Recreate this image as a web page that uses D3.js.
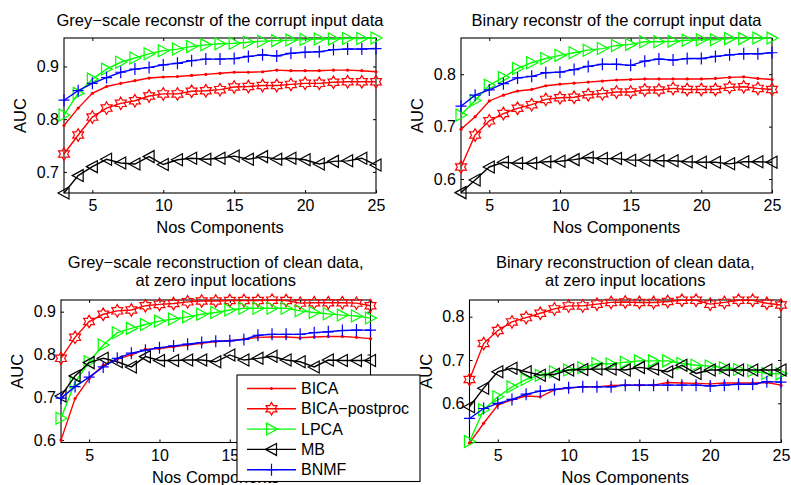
<!DOCTYPE html>
<html><head><meta charset="utf-8">
<script src="https://cdn.jsdelivr.net/npm/d3@7"></script>
<style>body{margin:0;background:#fff}svg{display:block}text{font-family:"Liberation Sans",Arial,sans-serif;fill:#000}</style>
</head><body><div id="chart"></div>
<script>
const components = [3,4,5,6,7,8,9,10,11,12,13,14,15,16,17,18,19,20,21,22,23,24,25];
const seriesNames = ["BICA","BICA\u2212postproc","LPCA","MB","BNMF"];
const seriesColors = ["#ff0000","#ff0000","#00ff00","#000000","#0000ff"];
const seriesMarkers = ["dot","hexagram","triRight","triLeft","plus"];
const xTicks = [5,10,15,20,25];

const titles = [
  ["Grey\u2212scale reconstr of the corrupt input data"],
  ["Binary reconstr of the corrupt input data"],
  ["Grey\u2212scale reconstruction of clean data,","at zero input locations"],
  ["Binary reconstruction of clean data,","at zero input locations"]
];
const yTicksTL = [0.7,0.8,0.9];
const yTicksTR = [0.6,0.7,0.8];
const yTicksBL = [0.6,0.7,0.8,0.9];
const yTicksBR = [0.6,0.7,0.8];

// Top-left: grey-scale, corrupt input
const bicaTL  = [0.788,0.821,0.849,0.862,0.868,0.873,0.878,0.880,0.881,0.883,0.885,0.887,0.889,0.889,0.890,0.893,0.892,0.892,0.892,0.893,0.893,0.892,0.890];
const postTL  = [0.734,0.770,0.804,0.821,0.830,0.835,0.844,0.848,0.848,0.853,0.854,0.856,0.861,0.862,0.864,0.864,0.866,0.868,0.868,0.870,0.871,0.871,0.871];
const lpcaTL  = [0.808,0.849,0.876,0.895,0.908,0.916,0.924,0.930,0.933,0.938,0.941,0.943,0.944,0.946,0.948,0.949,0.950,0.951,0.952,0.952,0.953,0.953,0.954];
const mbTL    = [0.660,0.693,0.710,0.724,0.717,0.715,0.729,0.714,0.723,0.726,0.724,0.726,0.730,0.724,0.729,0.724,0.726,0.723,0.715,0.720,0.721,0.726,0.713];
const bnmfTL  = [0.836,0.854,0.868,0.879,0.889,0.895,0.898,0.903,0.906,0.911,0.914,0.914,0.915,0.919,0.922,0.920,0.925,0.927,0.928,0.932,0.933,0.933,0.934];
// Top-right: binary, corrupt input
const bicaTR  = [0.695,0.719,0.749,0.760,0.768,0.771,0.778,0.781,0.783,0.785,0.787,0.789,0.790,0.791,0.791,0.791,0.791,0.791,0.792,0.794,0.795,0.792,0.790];
const postTR  = [0.623,0.684,0.711,0.725,0.735,0.742,0.752,0.755,0.756,0.761,0.763,0.766,0.766,0.770,0.770,0.773,0.771,0.771,0.771,0.775,0.776,0.773,0.771];
const lpcaTR  = [0.722,0.750,0.779,0.794,0.811,0.822,0.830,0.836,0.841,0.846,0.849,0.855,0.857,0.862,0.862,0.863,0.865,0.866,0.866,0.868,0.868,0.869,0.869];
const mbTR    = [0.574,0.598,0.623,0.632,0.630,0.630,0.633,0.634,0.637,0.641,0.639,0.639,0.636,0.636,0.635,0.635,0.633,0.632,0.632,0.629,0.633,0.633,0.632];
const bnmfTR  = [0.739,0.760,0.770,0.782,0.793,0.796,0.803,0.804,0.809,0.815,0.819,0.819,0.817,0.825,0.829,0.827,0.830,0.830,0.834,0.837,0.839,0.839,0.841];
// Bottom-left: grey-scale, clean data at zero inputs
const bicaBL  = [0.600,0.697,0.744,0.775,0.789,0.799,0.812,0.814,0.818,0.822,0.826,0.830,0.832,0.836,0.840,0.841,0.841,0.839,0.841,0.842,0.842,0.840,0.837];
const postBL  = [0.791,0.840,0.877,0.894,0.902,0.904,0.914,0.917,0.919,0.923,0.925,0.925,0.926,0.926,0.926,0.927,0.926,0.920,0.921,0.921,0.921,0.920,0.914];
const lpcaBL  = [0.651,0.735,0.783,0.822,0.851,0.861,0.870,0.878,0.883,0.888,0.894,0.898,0.904,0.908,0.908,0.908,0.908,0.902,0.898,0.895,0.892,0.890,0.885];
const mbBL    = [0.703,0.750,0.781,0.791,0.783,0.771,0.795,0.786,0.786,0.787,0.787,0.783,0.799,0.787,0.791,0.796,0.787,0.783,0.771,0.787,0.786,0.786,0.786];
const bnmfBL  = [0.698,0.725,0.747,0.771,0.791,0.803,0.810,0.816,0.820,0.824,0.828,0.831,0.832,0.835,0.845,0.847,0.847,0.847,0.851,0.853,0.856,0.857,0.857];
// Bottom-right: binary, clean data at zero inputs
const bicaBR  = [0.508,0.554,0.596,0.608,0.617,0.615,0.631,0.635,0.638,0.638,0.641,0.642,0.642,0.642,0.648,0.647,0.646,0.645,0.647,0.647,0.647,0.648,0.642];
const postBR  = [0.655,0.738,0.768,0.788,0.798,0.808,0.818,0.825,0.825,0.829,0.833,0.834,0.833,0.833,0.835,0.838,0.838,0.829,0.833,0.838,0.838,0.831,0.827];
const lpcaBR  = [0.512,0.585,0.615,0.638,0.655,0.665,0.673,0.677,0.682,0.692,0.691,0.695,0.698,0.698,0.698,0.692,0.688,0.686,0.682,0.678,0.675,0.669,0.668];
const mbBR    = [0.592,0.635,0.673,0.681,0.673,0.665,0.667,0.677,0.678,0.679,0.679,0.677,0.683,0.679,0.673,0.688,0.669,0.677,0.677,0.677,0.677,0.677,0.677];
const bnmfBR  = [0.565,0.588,0.600,0.609,0.621,0.628,0.632,0.636,0.638,0.638,0.638,0.642,0.642,0.642,0.642,0.642,0.642,0.640,0.642,0.644,0.644,0.650,0.649];

const W = 791, H = 485;
const panels = [
  {box:[64,376,38,193], y:[0.660,0.954], yt:yTicksTL, title:titles[0], series:[bicaTL,postTL,lpcaTL,mbTL,bnmfTL]},
  {box:[461,772,38,193], y:[0.5733,0.8692], yt:yTicksTR, title:titles[1], series:[bicaTR,postTR,lpcaTR,mbTR,bnmfTR]},
  {box:[61,370.5,300,442.5], y:[0.5944,0.9273], yt:yTicksBL, title:titles[2], series:[bicaBL,postBL,lpcaBL,mbBL,bnmfBL]},
  {box:[469.5,781,300,442.5], y:[0.5095,0.8386], yt:yTicksBR, title:titles[3], series:[bicaBR,postBR,lpcaBR,mbBR,bnmfBR]}
];

const svg = d3.select("#chart").append("svg").attr("width",W).attr("height",H);
const FS = 16, FT = 16.5;

function markerPath(type){
  if(type==="hexagram"){
    const R=6.3, r=R/Math.sqrt(3), pts=[];
    for(let i=0;i<12;i++){const a=-Math.PI/2+i*Math.PI/6, rr=i%2?r:R; pts.push([rr*Math.cos(a),rr*Math.sin(a)]);}
    return "M"+pts.map(p=>p[0].toFixed(2)+","+p[1].toFixed(2)).join("L")+"Z";
  }
  if(type==="triRight") return "M6,0L-5,-6L-5,6Z";
  if(type==="triLeft") return "M-6,0L5,-6L5,6Z";
  if(type==="plus") return "M-5.5,0L5.5,0M0,-6L0,6";
  return null;
}
function drawMarker(g, type, color, x, y){
  if(type==="dot"){
    g.append("circle").attr("cx",x).attr("cy",y).attr("r",1.6).attr("fill",color);
  } else {
    g.append("path").attr("d",markerPath(type)).attr("transform",`translate(${x},${y})`)
      .attr("fill","none").attr("stroke",color).attr("stroke-width",1.2);
  }
}

panels.forEach(p=>{
  const [L,R,T,B] = p.box;
  const x = d3.scaleLinear().domain([3,25]).range([L,R]);
  const y = d3.scaleLinear().domain(p.y).range([B,T]);
  const g = svg.append("g");
  g.append("rect").attr("x",L).attr("y",T).attr("width",R-L).attr("height",B-T).attr("fill","#fff");
  const tl = 3;
  g.append("g").attr("transform",`translate(0,${B})`).call(d3.axisBottom(x).tickValues(xTicks).tickSizeInner(-tl).tickSizeOuter(0).tickPadding(7).tickFormat(d3.format("d")))
    .call(a=>{a.select(".domain").remove();a.selectAll("text").attr("font-size",FS).attr("font-family","Liberation Sans, Arial");});
  g.append("g").attr("transform",`translate(0,${T})`).call(d3.axisTop(x).tickValues(xTicks).tickSizeInner(-tl).tickSizeOuter(0).tickFormat(""))
    .call(a=>a.select(".domain").remove());
  g.append("g").attr("transform",`translate(${L},0)`).call(d3.axisLeft(y).tickValues(p.yt).tickSizeInner(-tl).tickSizeOuter(0).tickPadding(5).tickFormat(d3.format(".1f")))
    .call(a=>{a.select(".domain").remove();a.selectAll("text").attr("font-size",FS).attr("font-family","Liberation Sans, Arial");});
  g.append("g").attr("transform",`translate(${R},0)`).call(d3.axisRight(y).tickValues(p.yt).tickSizeInner(-tl).tickSizeOuter(0).tickFormat(""))
    .call(a=>a.select(".domain").remove());
  g.selectAll(".tick line").attr("stroke","#000");
  g.append("rect").attr("x",L).attr("y",T).attr("width",R-L).attr("height",B-T).attr("fill","none").attr("stroke","#000").attr("stroke-width",1.1);

  const line = d3.line().x((d,i)=>x(components[i])).y(d=>y(d));
  p.series.forEach((vals,si)=>{
    const sg = g.append("g");
    sg.append("path").attr("d",line(vals)).attr("fill","none").attr("stroke",seriesColors[si]).attr("stroke-width",1.4);
    vals.forEach((v,i)=>drawMarker(sg, seriesMarkers[si], seriesColors[si], x(components[i]), y(v)));
  });

  const cx = (L+R)/2;
  if(p.title.length===1){
    g.append("text").attr("x",cx).attr("y",T-12).attr("text-anchor","middle").attr("font-size",FT).text(p.title[0]);
  } else {
    g.append("text").attr("x",cx).attr("y",T-32).attr("text-anchor","middle").attr("font-size",FT).text(p.title[0]);
    g.append("text").attr("x",cx).attr("y",T-14).attr("text-anchor","middle").attr("font-size",FT).text(p.title[1]);
  }
  g.append("text").attr("x",cx).attr("y",B+40).attr("text-anchor","middle").attr("font-size",FT).text("Nos Components");
  g.append("text").attr("transform",`translate(${L-38},${(T+B)/2}) rotate(-90)`).attr("text-anchor","middle").attr("font-size",FT).text("AUC");
});

// legend (belongs to bottom-left panel)
const lg = svg.append("g");
const lx0=237, ly0=375, lw=183, lh=106.5;
lg.append("rect").attr("x",lx0).attr("y",ly0).attr("width",lw).attr("height",lh).attr("fill","#fff").attr("stroke","#000").attr("stroke-width",1.1);
seriesNames.forEach((name,i)=>{
  const yy = ly0 + 13.5 + i*20.3;
  lg.append("line").attr("x1",lx0+10).attr("x2",lx0+59).attr("y1",yy).attr("y2",yy).attr("stroke",seriesColors[i]).attr("stroke-width",1.4);
  drawMarker(lg, seriesMarkers[i], seriesColors[i], lx0+34.5, yy);
  lg.append("text").attr("x",lx0+64).attr("y",yy+5.5).attr("font-size",FS).text(name);
});
</script></body></html>
